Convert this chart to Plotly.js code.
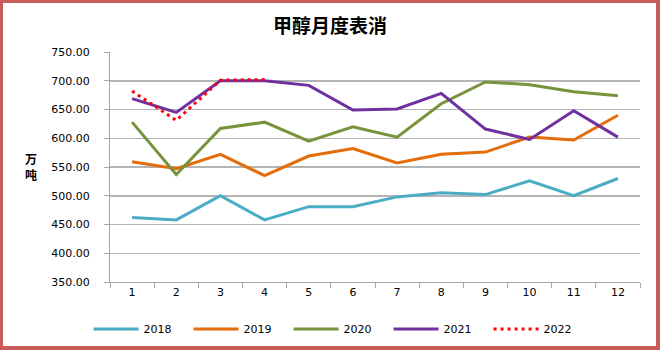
<!DOCTYPE html>
<html>
<head>
<meta charset="utf-8">
<script src="https://cdn.plot.ly/plotly-3.0.1.min.js"></script>
<style>
  html, body { margin: 0; padding: 0; background: #fff; }
  #wrap { position: relative; width: 660px; height: 350px; }
  #chart { position: absolute; left: 0; top: 0; width: 660px; height: 350px; }
  #frame { position: absolute; left: 0; top: 0; width: 660px; height: 350px; box-sizing: border-box;
           border: 3px solid #C85A58; border-right-width: 4px; border-bottom-width: 4px; pointer-events: none; }
</style>
</head>
<body>
<div id="wrap">
  <div id="chart"></div>
  <div id="frame"></div>
</div>
<script>
const months = ["1","2","3","4","5","6","7","8","9","10","11","12"];
const v2018 = [462, 458, 500, 458, 481, 481, 498, 505, 502, 526, 500, 530];
const v2019 = [559, 547, 572, 535, 569, 582, 557, 572, 576, 602, 597, 640];
const v2020 = [628, 537, 617, 628, 595, 620, 602, 660, 698, 693, 681, 674];
const v2021 = [669, 645, 700, 700, 692, 649, 651, 678, 616, 598, 648, 602];
const v2022 = [682, 631, 701, 702];
const seriesNames = ["2018", "2019", "2020", "2021", "2022"];
const titleText = "甲醇月度表消";
const yTitleChars = ["万", "吨"];

const colors = ["#4BACC6", "#E46C0A", "#77933C", "#7030A0", "#FF0000"];
const allVals = [v2018, v2019, v2020, v2021, v2022];

const traces = allVals.map((vals, i) => ({
  type: "scatter",
  mode: "lines",
  name: seriesNames[i],
  x: months.slice(0, vals.length),
  y: vals,
  line: i === 4
    ? { color: colors[i], width: 3, dash: "3px,4px" }
    : { color: colors[i], width: 3 },
  hoverinfo: "skip"
}));

const layout = {
  width: 660,
  height: 350,
  margin: { l: 110, r: 20, t: 52, b: 68 },
  paper_bgcolor: "#ffffff",
  plot_bgcolor: "#ffffff",
  font: { family: "DejaVu Sans, sans-serif", size: 11, color: "#000" },
  title: {
    text: titleText,
    font: { family: "Noto Sans CJK SC", size: 19, color: "#000", weight: "bold" },
    x: 0.5, xanchor: "center", xref: "container",
    y: 0.925, yanchor: "middle", yref: "container"
  },
  showlegend: true,
  legend: {
    orientation: "h",
    x: 0.513, xanchor: "center", xref: "container",
    y: 0.06, yanchor: "middle", yref: "container",
    font: { family: "DejaVu Sans, sans-serif", size: 11, color: "#000" },
    entrywidth: 40, entrywidthmode: "pixels",
    itemwidth: 45,
    traceorder: "normal"
  },
  xaxis: {
    type: "category",
    categoryorder: "array",
    categoryarray: months,
    range: [-0.5, 11.5],
    showgrid: false,
    zeroline: false,
    showline: true,
    linecolor: "#A6A6A6",
    linewidth: 1,
    ticks: "outside",
    tickson: "boundaries",
    ticklen: 5,
    tickcolor: "#A6A6A6",
    tickfont: { family: "DejaVu Sans, sans-serif", size: 11, color: "#000" },
    fixedrange: true
  },
  yaxis: {
    range: [350, 750],
    dtick: 50,
    tick0: 350,
    tickformat: ".2f",
    showgrid: true,
    gridcolor: "#B4B4B4",
    gridwidth: 1.5,
    zeroline: false,
    showline: true,
    linecolor: "#A6A6A6",
    linewidth: 1,
    ticks: "outside",
    ticklen: 5,
    tickcolor: "#A6A6A6",
    ticklabelstandoff: 12,
    tickfont: { family: "DejaVu Sans, sans-serif", size: 11, color: "#000" },
    fixedrange: true
  },
  annotations: yTitleChars.map((ch, i) => ({
    text: ch,
    xref: "paper", yref: "paper",
    x: -0.149, y: 0.539 - i * 0.072,
    xanchor: "center", yanchor: "middle",
    showarrow: false,
    borderpad: 0,
    font: { family: "Noto Sans CJK SC", size: 12, color: "#000", weight: "bold" }
  }))
};

Plotly.newPlot("chart", traces, layout, { displayModeBar: false, staticPlot: true });
</script>
</body>
</html>
